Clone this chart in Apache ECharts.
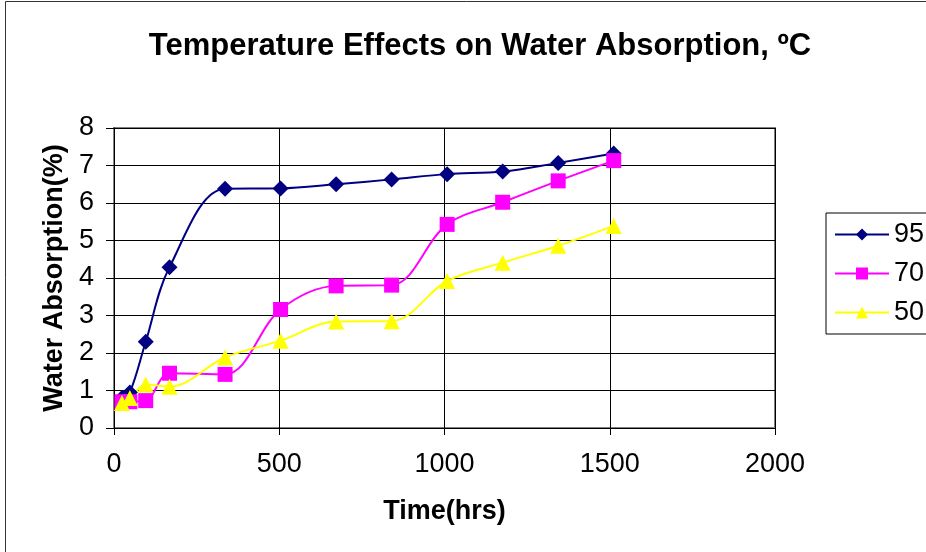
<!DOCTYPE html>
<html>
<head>
<meta charset="utf-8">
<script src="https://cdn.jsdelivr.net/npm/echarts@6/dist/echarts.min.js"></script>
<style>
  html, body { margin: 0; padding: 0; background: #fff; }
  #chart { width: 926px; height: 552px; }
</style>
</head>
<body>
<div id="chart"></div>
<script>
// time in hours
const hours = [24, 48, 96, 168, 336, 504, 672, 840, 1008, 1176, 1344, 1512];
// water absorption (%) per temperature
const t95 = [0.8, 0.95, 2.3, 4.29, 6.38, 6.39, 6.5, 6.63, 6.77, 6.84, 7.07, 7.32];
const t70 = [0.7, 0.7, 0.73, 1.46, 1.43, 3.16, 3.79, 3.81, 5.43, 6.02, 6.59, 7.13];
const t50 = [0.67, 0.8, 1.16, 1.1, 1.88, 2.33, 2.84, 2.85, 3.92, 4.41, 4.86, 5.39];
const seriesNames = ['95', '70', '50'];
const xTicks = [0, 500, 1000, 1500, 2000];

const font = 'Liberation Sans, Arial, sans-serif';
const chart = echarts.init(document.getElementById('chart'));

function pairs(vals) {
  return hours.map((h, i) => [h, vals[i]]);
}

function lineSeries(name, vals, color, symbol, size) {
  return {
    name: name,
    type: 'line',
    data: pairs(vals),
    smooth: 0.35,
    symbol: symbol,
    symbolSize: size,
    lineStyle: { color: color, width: 2 },
    itemStyle: { color: color },
    emphasis: { disabled: true }
  };
}

const option = {
  animation: false,
  title: {
    text: 'Temperature Effects on Water Absorption, ºC',
    left: 475,
    textAlign: 'center',
    top: 26,
    textStyle: { fontFamily: font, fontSize: 31, fontWeight: 'bold', color: '#000' }
  },
  graphic: [{
    type: 'rect',
    shape: { x: 5.5, y: 1.5, width: 1000, height: 700 },
    style: { fill: 'none', stroke: '#333', lineWidth: 1 },
    silent: true
  }],
  grid: {
    left: 114, right: 151, top: 128, bottom: 124,
    show: true, borderColor: '#808080', borderWidth: 2
  },
  legend: {
    orient: 'vertical',
    left: 826, top: 213,
    data: seriesNames,
    itemWidth: 54, itemHeight: 15,
    itemGap: 12,
    padding: [8, 20, 8, 8],
    borderColor: '#000', borderWidth: 1,
    textStyle: { fontFamily: font, fontSize: 27, color: '#000' }
  },
  xAxis: {
    type: 'value',
    min: 0, max: 2000, interval: 500,
    name: 'Time(hrs)',
    nameLocation: 'middle',
    nameGap: 70,
    nameTextStyle: { fontFamily: font, fontSize: 27, fontWeight: 'bold', color: '#000' },
    axisLine: { lineStyle: { color: '#000', width: 1 } },
    axisTick: { show: true, length: 7, lineStyle: { color: '#000' } },
    axisLabel: { fontFamily: font, fontSize: 27, color: '#000', margin: 23,
      formatter: v => xTicks.includes(v) ? String(v) : '' },
    splitLine: { show: true, lineStyle: { color: '#000', width: 1 } }
  },
  yAxis: {
    type: 'value',
    min: 0, max: 8, interval: 1,
    name: 'Water Absorption(%)',
    nameLocation: 'middle',
    nameGap: 40,
    nameTextStyle: { fontFamily: font, fontSize: 27, fontWeight: 'bold', color: '#000' },
    axisLine: { show: true, lineStyle: { color: '#000', width: 1 } },
    axisTick: { show: true, length: 8, lineStyle: { color: '#000' } },
    axisLabel: { fontFamily: font, fontSize: 27, color: '#000', margin: 20 },
    splitLine: { show: true, lineStyle: { color: '#000', width: 1 } }
  },
  series: [
    lineSeries(seriesNames[0], t95, '#000080', 'diamond', 16),
    lineSeries(seriesNames[1], t70, '#FF00FF', 'rect', 15),
    lineSeries(seriesNames[2], t50, '#FFFF00', 'triangle', 16)
  ]
};

chart.setOption(option);
</script>
</body>
</html>
